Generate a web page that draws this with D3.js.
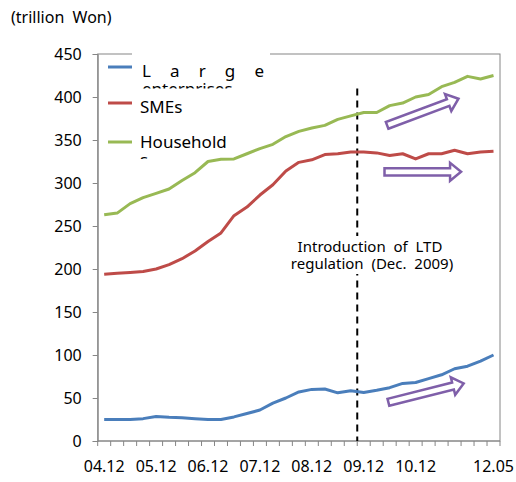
<!DOCTYPE html>
<html>
<head>
<meta charset="utf-8">
<script src="https://cdn.jsdelivr.net/npm/d3@7"></script>
<style>
body { margin: 0; background: #fff; }
text { font-family: "Noto Sans", "Open Sans", sans-serif; fill: #000; }
</style>
</head>
<body>
<svg id="chart" width="516" height="482"></svg>
<script>
// quarterly periods, Dec 2004 .. May 2012
const periods = ["04.12","05.03","05.06","05.09","05.12","06.03","06.06","06.09","06.12","07.03","07.06","07.09","07.12",
	"08.03","08.06","08.09","08.12","09.03","09.06","09.09","09.12","10.03","10.06","10.09","10.12",
	"11.03","11.06","11.09","11.12","12.03","12.05"];
const large = [25,25,25,26,28.5,27.5,27,26,25,25,28,32,36,44,50,57,60,60.5,56,58.5,56.5,59,62,67,68,72.5,77,84,87,93,100];
const smes = [194,195,196,197,200,205,212,221,232,242,262,272,286,298,314,324,327,333,334,336,336,335,332,334,328,334,334,338,334,336,337];
const household = [263,265,276,283,288,293,303,312,325,327.5,328,334,340,345,354,360,364,367,374,378,382,382,390,393,400,403,412,417,424,421,425];
const seriesNames = ["Large enterprises", "SMEs", "Households"];
const seriesColors = ["#4a7ebb", "#be4b48", "#98b954"];
const yTicks = [0,50,100,150,200,250,300,350,400,450];
const xLabels = ["04.12","05.12","06.12","07.12","08.12","09.12","10.12","12.05"];
const ltdPeriod = "09.12";
// trend arrows: [period index, value] tail -> tip
const arrows = [
	{from: [21.8, 367], to: [27.3, 398]},
	{from: [21.6, 313], to: [27.5, 313]},
	{from: [21.9, 45], to: [27.7, 67]}
];

const margin = {left: 97.7, top: 54, right: 16, bottom: 41};
const W = 516, H = 482;
const svg = d3.select("#chart");

var x = d3.scaleBand().domain(periods).range([margin.left, W - margin.right]).padding(0);
var xi = d3.scaleLinear().domain([-0.5, periods.length - 0.5]).range([margin.left, W - margin.right]);
var y = d3.scaleLinear().domain([0, 450]).range([H - margin.bottom, margin.top]);

const grey = "#868686";

// plot border
svg.append("rect")
	.attr("x", margin.left).attr("y", margin.top)
	.attr("width", W - margin.right - margin.left)
	.attr("height", H - margin.bottom - margin.top)
	.attr("fill", "none").attr("stroke", grey);

// legend background hides the top border
svg.append("rect")
	.attr("x", 132).attr("y", 50).attr("width", 138).attr("height", 100)
	.attr("fill", "#fff");

// y axis
var yAxis = svg.append("g")
	.attr("transform", `translate(${margin.left},0)`)
	.call(d3.axisLeft(y).tickValues(yTicks).tickSize(5).tickPadding(11));
yAxis.select(".domain").attr("stroke", grey);
yAxis.selectAll(".tick line").attr("stroke", grey);
yAxis.selectAll("text").attr("font-size", 16).attr("font-family", null).attr("fill", "#000");

// x axis: ticks at band edges, labels at centres
var xg = svg.append("g").attr("transform", `translate(0,${H - margin.bottom})`);
xg.append("line")
	.attr("x1", margin.left).attr("x2", W - margin.right)
	.attr("stroke", grey);
xg.selectAll(".xt")
	.data(d3.range(periods.length + 1))
	.enter().append("line")
	.attr("x1", d => xi(d - 0.5)).attr("x2", d => xi(d - 0.5))
	.attr("y1", 0).attr("y2", 5)
	.attr("stroke", grey);
xg.selectAll(".xl")
	.data(xLabels)
	.enter().append("text")
	.attr("x", d => x(d) + x.bandwidth() / 2)
	.attr("y", 31)
	.attr("text-anchor", "middle")
	.attr("font-size", 16)
	.text(d => d);

// LTD regulation marker
svg.append("line")
	.attr("x1", x(ltdPeriod)).attr("x2", x(ltdPeriod))
	.attr("y1", y(410)).attr("y2", y(0))
	.attr("stroke", "#000").attr("stroke-width", 2)
	.attr("stroke-dasharray", "7,5");

// text box over the marker
svg.append("rect")
	.attr("x", 286).attr("y", 236).attr("width", 176).attr("height", 38)
	.attr("fill", "#fff");
var note = svg.append("text")
	.attr("text-anchor", "middle")
	.attr("font-size", 15)
	.style("white-space", "pre");
note.append("tspan").attr("x", 370).attr("y", 252).text("Introduction  of  LTD");
note.append("tspan").attr("x", 372).attr("y", 269).text("regulation  (Dec.  2009)");

// series lines
var line = d3.line()
	.x((d, i) => x(periods[i]) + x.bandwidth() / 2)
	.y(d => y(d));
[large, smes, household].forEach((s, k) => {
	svg.append("path")
		.datum(s)
		.attr("d", line)
		.attr("fill", "none")
		.attr("stroke", seriesColors[k])
		.attr("stroke-width", 3)
		.attr("stroke-linejoin", "round");
});

// trend arrows
const arrowPath = (a) => {
	var p0 = [xi(a.from[0]), y(a.from[1])], p1 = [xi(a.to[0]), y(a.to[1])];
	var dx = p1[0] - p0[0], dy = p1[1] - p0[1], len = Math.hypot(dx, dy);
	var u = [dx / len, dy / len], n = [-u[1], u[0]];
	var w = 3.6, h = 9, L = 11;
	var b = [p1[0] - u[0] * L, p1[1] - u[1] * L];
	var pts = [
		[p0[0] + n[0] * w, p0[1] + n[1] * w],
		[b[0] + n[0] * w, b[1] + n[1] * w],
		[b[0] + n[0] * h, b[1] + n[1] * h],
		p1,
		[b[0] - n[0] * h, b[1] - n[1] * h],
		[b[0] - n[0] * w, b[1] - n[1] * w],
		[p0[0] - n[0] * w, p0[1] - n[1] * w]
	];
	return "M" + pts.map(p => p.join(",")).join("L") + "Z";
};
svg.selectAll(".arrow")
	.data(arrows)
	.enter().append("path")
	.attr("d", arrowPath)
	.attr("fill", "#fff")
	.attr("stroke", "#7f5fa9")
	.attr("stroke-width", 2.5)
	.attr("stroke-linejoin", "miter");

// legend
var defs = svg.append("defs");
defs.append("clipPath").attr("id", "clip0").append("rect")
	.attr("x", 130).attr("y", 50).attr("width", 140).attr("height", 38.5);
defs.append("clipPath").attr("id", "clip2").append("rect")
	.attr("x", 130).attr("y", 120).attr("width", 140).attr("height", 39);

var legendY = [67, 103, 142];
seriesNames.forEach((name, k) => {
	var g = svg.append("g");
	g.append("line")
		.attr("x1", 108).attr("x2", 132)
		.attr("y1", legendY[k]).attr("y2", legendY[k])
		.attr("stroke", seriesColors[k]).attr("stroke-width", 3);
	if (k === 0) {
		var t = g.append("g").attr("clip-path", "url(#clip0)");
		t.append("text").attr("x", 142).attr("y", legendY[k] + 10).attr("font-size", 17)
			.attr("textLength", 122).attr("lengthAdjust", "spacing").text("Large");
		t.append("text").attr("x", 142).attr("y", legendY[k] + 28).attr("font-size", 17).text("enterprises");
	} else if (k === 2) {
		var t2 = g.append("g").attr("clip-path", "url(#clip2)");
		t2.append("text").attr("x", 140).attr("y", legendY[k] + 6).attr("font-size", 17).text("Household");
		t2.append("text").attr("x", 140).attr("y", legendY[k] + 24).attr("font-size", 17).text("s");
	} else {
		g.append("text").attr("x", 140).attr("y", legendY[k] + 10).attr("font-size", 17).text(name);
	}
});

// unit label
svg.append("text")
	.attr("x", 11).attr("y", 23)
	.attr("font-size", 16)
	.style("white-space", "pre")
	.text("(trillion  Won)");
</script>
</body>
</html>
